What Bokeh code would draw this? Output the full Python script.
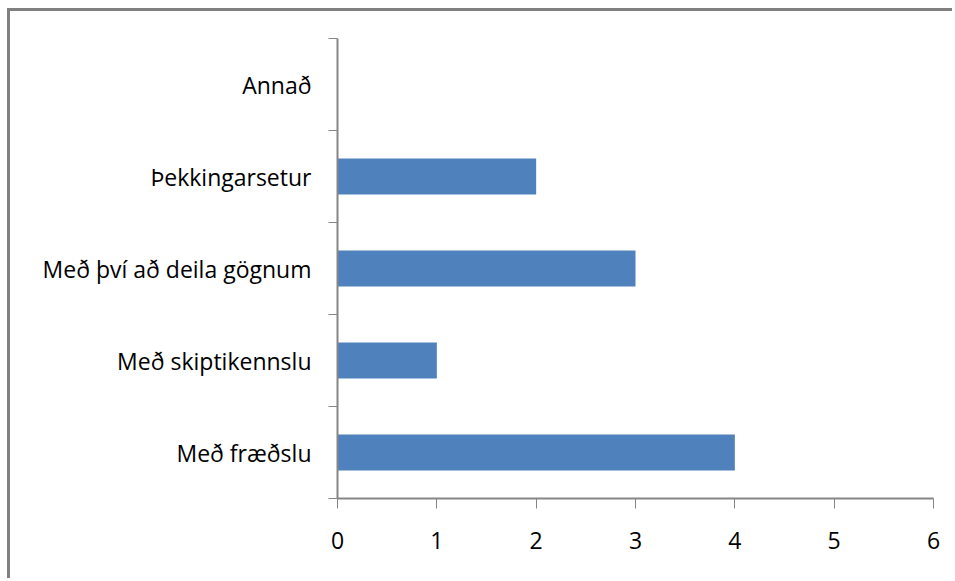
from bokeh.plotting import figure
from bokeh.models import FixedTicker, Range1d, ColumnDataSource
from bokeh.embed import file_html
from bokeh.resources import INLINE

# Data (bottom to top)
categories = ["Með fræðslu", "Með skiptikennslu", "Með því að deila gögnum", "Þekkingarsetur", "Annað"]
values = [4, 1, 3, 2, 0]
x_ticks = [0, 1, 2, 3, 4, 5, 6]

centers = [i + 0.5 for i in range(len(categories))]
bounds = [i for i in range(len(categories) + 1)]

FONT = "Open Sans"
FS = "23px"
AXIS_COLOR = "#868686"

p = figure(width=945, height=570, output_backend="svg", toolbar_location=None,
           x_range=Range1d(0, 6), y_range=Range1d(0, len(categories)),
           min_border_left=327, min_border_top=27, min_border_bottom=83, min_border_right=22)
p.styles = {"border-left": "3px solid #808080", "border-top": "3px solid #808080",
            "margin-left": "7px", "margin-top": "8px"}

src = ColumnDataSource(dict(y=centers, right=values))
p.hbar(y="y", left=0, right="right", height=0.39, source=src,
       fill_color="#4F81BD", line_color=None)

p.outline_line_color = None
p.xgrid.grid_line_color = None
p.ygrid.grid_line_color = None
p.background_fill_color = "white"
p.border_fill_color = "white"

xa = p.xaxis[0]
xa.ticker = FixedTicker(ticks=x_ticks)
xa.axis_line_color = AXIS_COLOR
xa.axis_line_width = 2
xa.major_tick_line_color = AXIS_COLOR
xa.major_tick_out = 10
xa.major_tick_in = 0
xa.minor_tick_line_color = None
xa.major_label_text_font = FONT
xa.major_label_text_font_size = FS
xa.major_label_text_color = "black"
xa.major_label_standoff = 23

ya = p.yaxis[0]
ya.ticker = FixedTicker(ticks=centers, minor_ticks=bounds)
ya.major_label_overrides = {c: lab for c, lab in zip(centers, categories)}
ya.axis_line_color = AXIS_COLOR
ya.axis_line_width = 2
ya.major_tick_line_color = None
ya.major_tick_out = 0
ya.major_tick_in = 0
ya.minor_tick_line_color = AXIS_COLOR
ya.minor_tick_out = 9
ya.minor_tick_in = 0
ya.major_label_text_font = FONT
ya.major_label_text_font_size = FS
ya.major_label_text_color = "black"
ya.major_label_standoff = 17

open("out.html", "w").write(file_html(p, INLINE))
